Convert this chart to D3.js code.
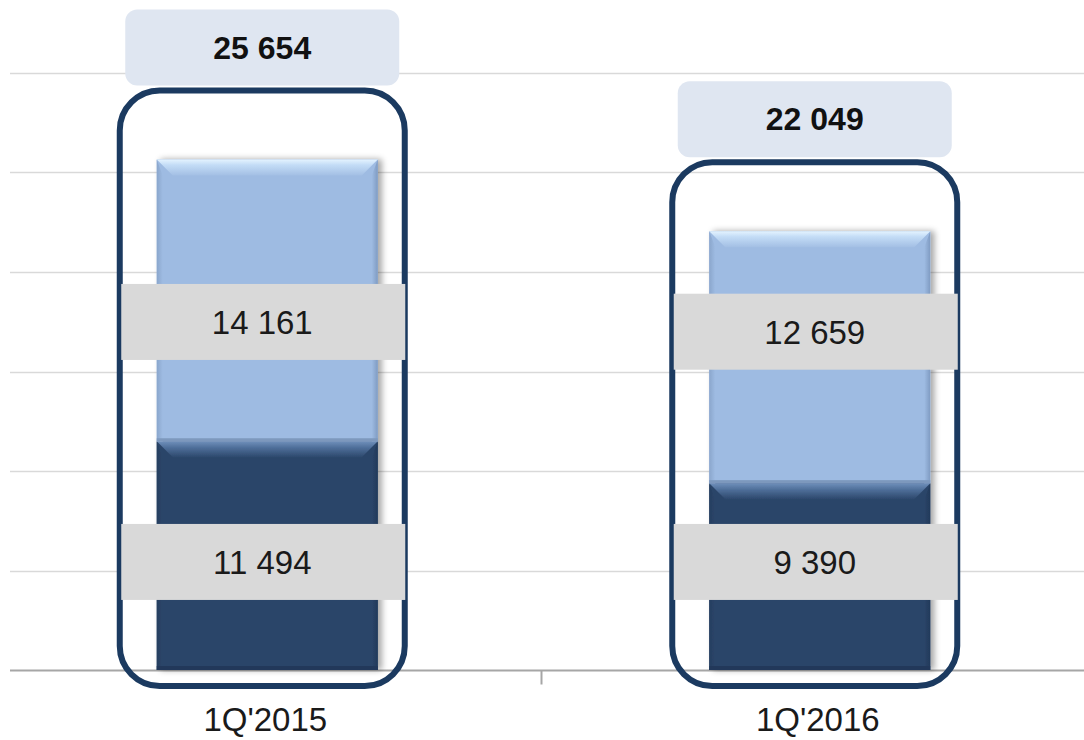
<!DOCTYPE html>
<html>
<head>
<meta charset="utf-8">
<script src="https://cdn.jsdelivr.net/npm/d3@7"></script>
<style>
  html, body { margin: 0; padding: 0; background: #fff; }
  svg text { font-family: "Liberation Sans", Arial, sans-serif; }
</style>
</head>
<body>
<div id="chart"></div>
<script>
// data
var categories = ["1Q'2015", "1Q'2016"];
var lowerValues = [11494, 9390];
var upperValues = [14161, 12659];
var totalValues = [25654, 22049];
var yTicks = [0, 5000, 10000, 15000, 20000, 25000, 30000];
// where the in-bar labels sit, in value units
var lowerLabelAt = [5430, 5430];
var upperLabelAt = [17490, 17000];

var width = 1084, height = 740;
var bevel = 16;
var fmt = function (v) { return d3.format(",")(v).replace(/,/g, " "); };

var svg = d3.select("#chart").append("svg")
    .attr("width", width).attr("height", height);

var defs = svg.append("defs");
function vgrad(id, stops) {
    var g = defs.append("linearGradient").attr("id", id)
        .attr("x1", 0).attr("y1", 0).attr("x2", 0).attr("y2", 1);
    stops.forEach(function (s) {
        g.append("stop").attr("offset", s[0]).attr("stop-color", s[1]);
    });
}
function hgrad(id, stops) {
    var g = defs.append("linearGradient").attr("id", id)
        .attr("x1", 0).attr("y1", 0).attr("x2", 1).attr("y2", 0);
    stops.forEach(function (s) {
        g.append("stop").attr("offset", s[0]).attr("stop-color", s[1]);
    });
}
vgrad("topLight", [[0, "#e4f3ff"], [0.35, "#c3dcf6"], [1, "#a3bfe4"]]);
vgrad("topDark", [[0, "#7090bb"], [0.4, "#4f6f9a"], [1, "#2d486c"]]);
hgrad("leftLight", [[0, "#8aa6cc"], [1, "#9ebbe2"]]);
hgrad("rightLight", [[0, "#9ebbe2"], [1, "#7f9bc2"]]);
hgrad("leftDark", [[0, "#263f60"], [1, "#2b4569"]]);
hgrad("rightDark", [[0, "#2b4569"], [1, "#22395a"]]);

var shadow = defs.append("filter").attr("id", "shadow")
    .attr("x", "-10%").attr("y", "-10%").attr("width", "130%").attr("height", "120%");
shadow.append("feGaussianBlur").attr("in", "SourceAlpha").attr("stdDeviation", 3);
shadow.append("feOffset").attr("dx", 4).attr("dy", 0).attr("result", "off");
shadow.append("feComponentTransfer").append("feFuncA").attr("type", "linear").attr("slope", 0.35);
var merge = shadow.append("feMerge");
merge.append("feMergeNode");
merge.append("feMergeNode").attr("in", "SourceGraphic");

var y = d3.scaleLinear().domain([0, 30000]).range([670, 73]);
var x = d3.scaleBand().domain(categories).range([-9, 1096])
    .paddingInner(0.6).paddingOuter(0.3);

// gridlines
svg.append("g").selectAll("line").data(yTicks.slice(1)).enter().append("line")
    .attr("x1", 10).attr("x2", width)
    .attr("y1", function (d) { return Math.round(y(d)) + 0.5; })
    .attr("y2", function (d) { return Math.round(y(d)) + 0.5; })
    .attr("stroke", "#d9d9d9").attr("stroke-width", 1.5);

// baseline + middle tick
var base = Math.round(y(0)) + 0.5;
svg.append("line").attr("x1", 10).attr("x2", width)
    .attr("y1", base).attr("y2", base)
    .attr("stroke", "#a6a6a6").attr("stroke-width", 2);
var mid = (x(categories[0]) + x.bandwidth() + x(categories[1])) / 2 - 2;
svg.append("line").attr("x1", mid).attr("x2", mid)
    .attr("y1", base).attr("y2", base + 14)
    .attr("stroke", "#a6a6a6").attr("stroke-width", 2);

// stacked bars with bevel
function bevelRect(g, x0, y0, w, h, kind) {
    var isLight = kind === "light";
    g.append("rect").attr("x", x0).attr("y", y0).attr("width", w).attr("height", h)
        .attr("fill", isLight ? "#9ebbe2" : "#2b4569");
    var b = Math.min(bevel, h / 2);
    g.append("polygon")
        .attr("points", [[x0, y0], [x0 + 6, y0 + b], [x0 + 6, y0 + h], [x0, y0 + h]].join(" "))
        .attr("fill", "url(#" + (isLight ? "leftLight" : "leftDark") + ")");
    g.append("polygon")
        .attr("points", [[x0 + w, y0], [x0 + w - 6, y0 + b], [x0 + w - 6, y0 + h], [x0 + w, y0 + h]].join(" "))
        .attr("fill", "url(#" + (isLight ? "rightLight" : "rightDark") + ")");
    g.append("polygon")
        .attr("points", [[x0, y0], [x0 + w, y0], [x0 + w - b, y0 + b], [x0 + b, y0 + b]].join(" "))
        .attr("fill", "url(#" + (isLight ? "topLight" : "topDark") + ")");
}

categories.forEach(function (c, i) {
    var g = svg.append("g").attr("filter", "url(#shadow)");
    var x0 = x(c), w = x.bandwidth();
    var yLow = y(lowerValues[i]);
    var yTop = y(lowerValues[i] + upperValues[i]);
    bevelRect(g, x0, yLow, w, y(0) - yLow, "dark");
    g.append("rect").attr("x", x0).attr("y", y(0) - 4).attr("width", w).attr("height", 4)
        .attr("fill", "#22395a");
    bevelRect(g, x0, yTop, w, yLow - yTop, "light");
    g.append("rect").attr("x", x0).attr("y", yLow - 3).attr("width", w).attr("height", 3)
        .attr("fill", "#7d98bd");
});

// rounded outlines
svg.append("g").selectAll("rect").data(categories).enter().append("rect")
    .attr("x", function (d) { return x(d) - 37; })
    .attr("y", function (d, i) { return y(totalValues[i]) - 69; })
    .attr("width", x.bandwidth() + 37 + 27)
    .attr("height", function (d, i) { return y(0) + 16 - (y(totalValues[i]) - 69); })
    .attr("rx", 40).attr("ry", 40)
    .attr("fill", "none").attr("stroke", "#1b3a60").attr("stroke-width", 6);

// total boxes
var totals = svg.append("g").selectAll("g").data(categories).enter().append("g")
    .attr("transform", function (d, i) {
        return "translate(" + (x(d) + x.bandwidth() / 2 - 5) + "," + (y(totalValues[i]) - 112) + ")";
    });
totals.append("rect").attr("x", -137).attr("y", -38).attr("width", 274).attr("height", 76)
    .attr("rx", 12).attr("fill", "#dfe6f1");
totals.append("text").attr("text-anchor", "middle").attr("dy", "0.35em")
    .style("font-size", "32px").style("font-weight", "bold").attr("fill", "#111")
    .text(function (d, i) { return fmt(totalValues[i]); });

// segment labels
function segLabels(vals, at) {
    var gl = svg.append("g").selectAll("g").data(categories).enter().append("g")
        .attr("transform", function (d, i) {
            return "translate(" + (x(d) + x.bandwidth() / 2 - 5) + "," + y(at[i]) + ")";
        });
    gl.append("rect").attr("x", -141).attr("y", -38).attr("width", 284).attr("height", 76)
        .attr("fill", "#d9d9d9");
    gl.append("text").attr("text-anchor", "middle").attr("dy", "0.36em")
        .style("font-size", "33px").attr("fill", "#1a1a1a")
        .text(function (d, i) { return fmt(vals[i]); });
}
segLabels(upperValues, upperLabelAt);
segLabels(lowerValues, lowerLabelAt);

// category labels
svg.append("g").selectAll("text").data(categories).enter().append("text")
    .attr("x", function (d) { return x(d) + x.bandwidth() / 2 - 2; })
    .attr("y", 731)
    .attr("text-anchor", "middle")
    .style("font-size", "33px").attr("fill", "#1a1a1a")
    .text(function (d) { return d; });
</script>
</body>
</html>
